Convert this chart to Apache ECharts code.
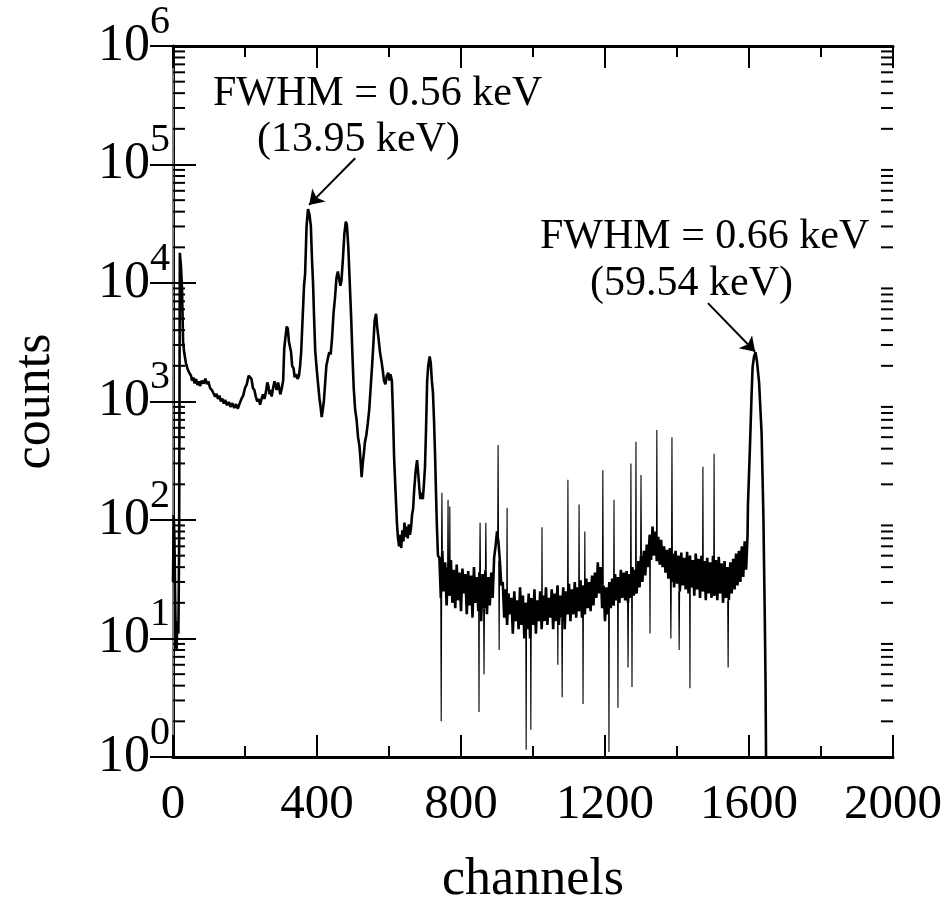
<!DOCTYPE html>
<html lang="en">
<head>
    <meta charset="UTF-8">
    <title>Spectrum - counts vs channels</title>
    <script src="https://cdnjs.cloudflare.com/ajax/libs/echarts/6.0.0/echarts.min.js"></script>
    <style>
        body { margin: 0; background: #fff; }
        #chart { width: 950px; height: 897px; }
    </style>
</head>
<body>
    <div id="chart"></div>

    <script>
        // x axis ticks
        const xTicks = [0, 400, 800, 1200, 1600, 2000];
        // y axis decades (log)
        const yDecades = [1, 10, 100, 1000, 10000, 100000, 1000000];
        const minorMultipliers = [2, 3, 4, 5, 6, 7, 8, 9];

        // channels 0..736: edge, 13.95 keV, 17.7 keV region peaks  [channel, counts]
        const lowRegion = [
            [0, 30], [2, 110], [4, 70], [6, 22], [8, 9], [10, 8], [12, 14], [15, 11], [17, 60],
            [19, 18000], [22, 14000], [25, 9000], [28, 3200], [31, 2600], [36, 2100], [40, 1900],
            [45, 1750], [50, 1650], [53, 1500], [56, 1600], [60, 1420], [64, 1550], [68, 1380],
            [72, 1480], [75, 1350], [80, 1500], [85, 1420], [90, 1560], [94, 1400], [98, 1480],
            [103, 1300], [108, 1250], [112, 1180], [117, 1100], [121, 1160], [125, 1050], [129, 1120],
            [133, 1000], [137, 1060], [141, 960], [145, 1030], [150, 930], [155, 990], [160, 900],
            [165, 970], [170, 880], [175, 950], [180, 870], [185, 960], [190, 1050], [195, 1120],
            [200, 1300], [205, 1400], [210, 1650], [214, 1700], [218, 1550], [222, 1300], [226, 1250],
            [230, 1100], [234, 1000], [238, 1050], [242, 940], [246, 1050], [250, 1150], [254, 1050],
            [258, 1200], [262, 1450], [265, 1350], [268, 1150], [271, 1250], [274, 1100], [278, 1300],
            [282, 1480], [285, 1350], [288, 1250], [292, 1450], [295, 1300], [298, 1150], [302, 1280],
            [306, 1500], [309, 2800], [312, 3400], [316, 4300], [319, 4100], [322, 3200], [325, 3300],
            [328, 2600], [331, 2000], [335, 1900], [338, 1600], [342, 1700], [346, 1550], [350, 1650],
            [353, 2000], [356, 2600], [360, 5000], [364, 9500], [367, 12000], [371, 30000], [375, 42000],
            [379, 38000], [383, 30000], [386, 16000], [389, 10000], [392, 5000], [395, 2700], [399, 1900],
            [403, 1400], [407, 1050], [410, 900], [413, 740], [416, 850], [419, 1000], [422, 1350],
            [426, 2000], [430, 2300], [434, 2600], [438, 2500], [442, 3500], [446, 5600], [450, 7500],
            [454, 11000], [458, 12500], [461, 11000], [465, 9500], [468, 10500], [472, 16000],
            [476, 26000], [480, 33000], [483, 31000], [487, 20000], [491, 10000], [495, 5000],
            [499, 2200], [502, 1300], [506, 850], [510, 700], [514, 500], [518, 420], [521, 320],
            [524, 230], [527, 300], [530, 360], [533, 450], [537, 520], [541, 650], [545, 850],
            [549, 1300], [553, 2000], [557, 3200], [560, 4800], [564, 5500], [567, 4300], [571, 3400],
            [575, 2600], [579, 2200], [583, 1800], [586, 1500], [590, 1400], [594, 1650], [598, 1750],
            [601, 1500], [604, 1700], [608, 1500], [611, 800], [614, 350], [617, 210], [620, 130],
            [622, 95], [625, 70], [628, 60], [631, 75], [634, 58], [637, 82], [640, 66], [643, 95],
            [646, 72], [649, 88], [652, 70], [655, 92], [658, 75], [661, 85], [664, 110], [667, 125],
            [670, 180], [674, 260], [678, 320], [681, 250], [684, 190], [687, 150], [690, 170],
            [694, 150], [697, 200], [700, 280], [703, 600], [706, 1500], [709, 2000], [713, 2400],
            [716, 2100], [719, 1500], [722, 1200], [725, 700], [728, 350], [731, 150], [733, 90], [736, 50]
        ];

        // noisy continuum, one value every 4 channels from channel 740
        const noiseStart = 740;
        const noiseStep = 4;
        const noiseCounts = [
            48, 22, 55, 25, 44, 19, 40, 23, 46, 20,
            38, 18, 42, 21, 36, 17, 39, 24, 35, 16,
            37, 19, 34, 15, 40, 20, 33, 17, 36, 14,
            35, 18, 38, 16, 33, 19, 36, 22, 48, 60,
            80, 65, 45, 28, 30, 15, 26, 13, 24, 16,
            22, 11, 25, 14, 21, 12, 27, 13, 23, 10,
            20, 12, 24, 10, 22, 13, 26, 11, 21, 14,
            25, 12, 23, 14, 27, 13, 22, 15, 26, 12,
            24, 14, 28, 13, 23, 15, 27, 12, 25, 16,
            29, 14, 26, 16, 30, 15, 27, 17, 31, 15,
            28, 16, 32, 18, 30, 17, 34, 19, 36, 22,
            44, 24, 40, 18, 28, 14, 27, 16, 30, 18,
            32, 19, 35, 21, 33, 20, 38, 22, 36, 21,
            37, 20, 35, 22, 40, 23, 38, 24, 45, 27,
            50, 30, 55, 34, 62, 40, 75, 46, 88, 50,
            80, 45, 72, 42, 68, 40, 60, 36, 56, 32,
            58, 30, 52, 27, 55, 29, 50, 25, 53, 28,
            48, 26, 54, 24, 50, 27, 46, 23, 52, 26,
            47, 22, 50, 25, 45, 21, 48, 24, 44, 22,
            50, 23, 46, 21, 49, 24, 43, 20, 45, 22,
            40, 21, 44, 24, 47, 26, 52, 28, 55, 30,
            60, 33, 66, 38, 75
        ];

        // 59.54 keV line
        const amPeak = [
            [1597, 130], [1603, 450], [1607, 1100], [1610, 1950], [1614, 2400], [1618, 2600],
            [1622, 2200], [1628, 1450], [1635, 540], [1640, 107], [1644, 14], [1646, 4], [1648, 0.5]
        ];

        // single-channel needles in the continuum
        const spikesUp = [
            [747, 170], [764, 148], [769, 130], [853, 95], [869, 95], [903, 430], [928, 126],
            [1025, 87], [1097, 219], [1128, 135], [1144, 80], [1194, 263], [1225, 148], [1272, 300],
            [1286, 457], [1300, 240], [1344, 575], [1386, 500], [1472, 282], [1503, 363]
        ];
        const spikesDown = [
            [745, 2], [850, 2.4], [864, 5], [906, 8], [981, 1.15], [994, 1.7], [1069, 6], [1081, 3.2],
            [1139, 2.8], [1211, 1.1], [1236, 2.6], [1264, 5.7], [1275, 3.9], [1325, 11], [1383, 10],
            [1406, 8], [1436, 3.8], [1542, 5.7]
        ];

        const serif = '"Liberation Serif", "DejaVu Serif", serif';

        const noisePairs = noiseCounts.map((c, i) => [noiseStart + i * noiseStep, c]);
        const spectrum = lowRegion.concat(noisePairs, amPeak);

        // needles drawn thin: from the continuum level at that channel up/down to the needle value
        function continuumAt(ch) {
            const i = Math.min(noiseCounts.length - 1, Math.max(0, Math.round((ch - noiseStart) / noiseStep)));
            return noiseCounts[i];
        }
        const needleData = [];
        spikesUp.concat(spikesDown).forEach(([ch, v]) => {
            const base = continuumAt(ch);
            needleData.push([ch - 1.2, base], [ch, v], [ch + 1.2, base], [ch + 1.2, '-']);
        });

        const minorTickValues = [];
        yDecades.slice(0, -1).forEach(d => {
            minorMultipliers.forEach(m => minorTickValues.push([0, m * d]));
        });

        const chart = echarts.init(document.getElementById('chart'));

        const xCommon = {
            type: 'value',
            min: xTicks[0],
            max: xTicks[xTicks.length - 1],
            interval: 400,
            splitLine: { show: false },
            axisLine: { show: true, lineStyle: { color: '#000', width: 3 } },
            axisTick: { show: true, inside: true, length: 22, lineStyle: { color: '#000', width: 2 } },
            minorTick: { show: true, splitNumber: 2, length: 11, lineStyle: { color: '#000', width: 2 } }
        };

        const yCommon = {
            type: 'log',
            logBase: 10,
            min: yDecades[0],
            max: yDecades[yDecades.length - 1],
            splitNumber: 6,
            splitLine: { show: false },
            axisTick: { show: true, inside: true, length: 23, lineStyle: { color: '#000', width: 2 } }
        };

        chart.setOption({
            animation: false,
            backgroundColor: '#fff',
            grid: { left: 173, right: 57, top: 46, bottom: 140, containLabel: false, outerBoundsMode: 'none' },
            xAxis: [
                Object.assign({}, xCommon, {
                    position: 'bottom',
                    name: 'channels',
                    nameLocation: 'middle',
                    nameGap: 97,
                    nameTextStyle: { fontFamily: serif, fontSize: 52, color: '#000' },
                    axisLabel: { fontFamily: serif, fontSize: 49, color: '#000', margin: 24, formatter: v => String(v) }
                }),
                Object.assign({}, xCommon, {
                    position: 'top',
                    axisLabel: { show: false }
                })
            ],
            yAxis: [
                Object.assign({}, yCommon, {
                    position: 'left',
                    name: 'counts',
                    nameLocation: 'middle',
                    nameRotate: 90,
                    nameGap: 112,
                    nameTextStyle: { fontFamily: serif, fontSize: 52, color: '#000' },
                    axisLine: { show: true, lineStyle: { color: '#000', width: 3 } },
                    axisLabel: {
                        margin: 3,
                        formatter: v => '{b|10}{s|' + Math.round(Math.log10(v)) + '}',
                        rich: {
                            b: { fontFamily: serif, fontSize: 52, color: '#000', lineHeight: 56, padding: [16, 0, 16, 0] },
                            s: { fontFamily: serif, fontSize: 40, color: '#000', lineHeight: 40, padding: [0, 0, 48, 0] }
                        }
                    }
                }),
                Object.assign({}, yCommon, {
                    position: 'right',
                    axisLine: { show: true, lineStyle: { color: '#aaa', width: 1.5 } },
                    axisLabel: { show: false }
                })
            ],
            graphic: [
                { type: 'text', style: { text: 'FWHM = 0.56 keV', x: 213, y: 94, font: '42px ' + serif, fill: '#000', textAlign: 'left', textVerticalAlign: 'middle' } },
                { type: 'text', style: { text: '(13.95 keV)', x: 257, y: 140, font: '42px ' + serif, fill: '#000', textAlign: 'left', textVerticalAlign: 'middle' } },
                { type: 'text', style: { text: 'FWHM = 0.66 keV', x: 540, y: 237, font: '42px ' + serif, fill: '#000', textAlign: 'left', textVerticalAlign: 'middle' } },
                { type: 'text', style: { text: '(59.54 keV)', x: 590, y: 284, font: '42px ' + serif, fill: '#000', textAlign: 'left', textVerticalAlign: 'middle' } }
            ],
            series: [
                {
                    type: 'line',
                    data: spectrum,
                    showSymbol: false,
                    symbol: 'none',
                    clip: true,
                    lineStyle: { color: '#000', width: 2.6 },
                    markLine: {
                        silent: true,
                        symbol: ['none', 'arrow'],
                        symbolSize: 14,
                        label: { show: false },
                        lineStyle: { color: '#000', width: 2, type: 'solid' },
                        data: [
                            [{ coord: [506, 113000] }, { coord: [378, 45600] }],
                            [{ coord: [1486, 6760] }, { coord: [1617, 2630] }]
                        ]
                    }
                },
                {
                    type: 'line',
                    data: needleData,
                    showSymbol: false,
                    symbol: 'none',
                    connectNulls: false,
                    clip: true,
                    lineStyle: { color: '#000', width: 1.1 }
                },
                {
                    // minor log ticks on the left and right frame
                    type: 'custom',
                    silent: true,
                    data: minorTickValues,
                    renderItem: function (params, api) {
                        const v = api.value(1);
                        const left = api.coord([xTicks[0], v]);
                        const right = api.coord([xTicks[xTicks.length - 1], v]);
                        const style = { stroke: '#000', lineWidth: 2 };
                        return {
                            type: 'group',
                            children: [
                                { type: 'line', shape: { x1: left[0], y1: left[1], x2: left[0] + 12, y2: left[1] }, style: style },
                                { type: 'line', shape: { x1: right[0] - 12, y1: right[1], x2: right[0], y2: right[1] }, style: style }
                            ]
                        };
                    }
                }
            ]
        });

        window.onresize = function () {
            chart.resize();
        };
    </script>
</body>
</html>
